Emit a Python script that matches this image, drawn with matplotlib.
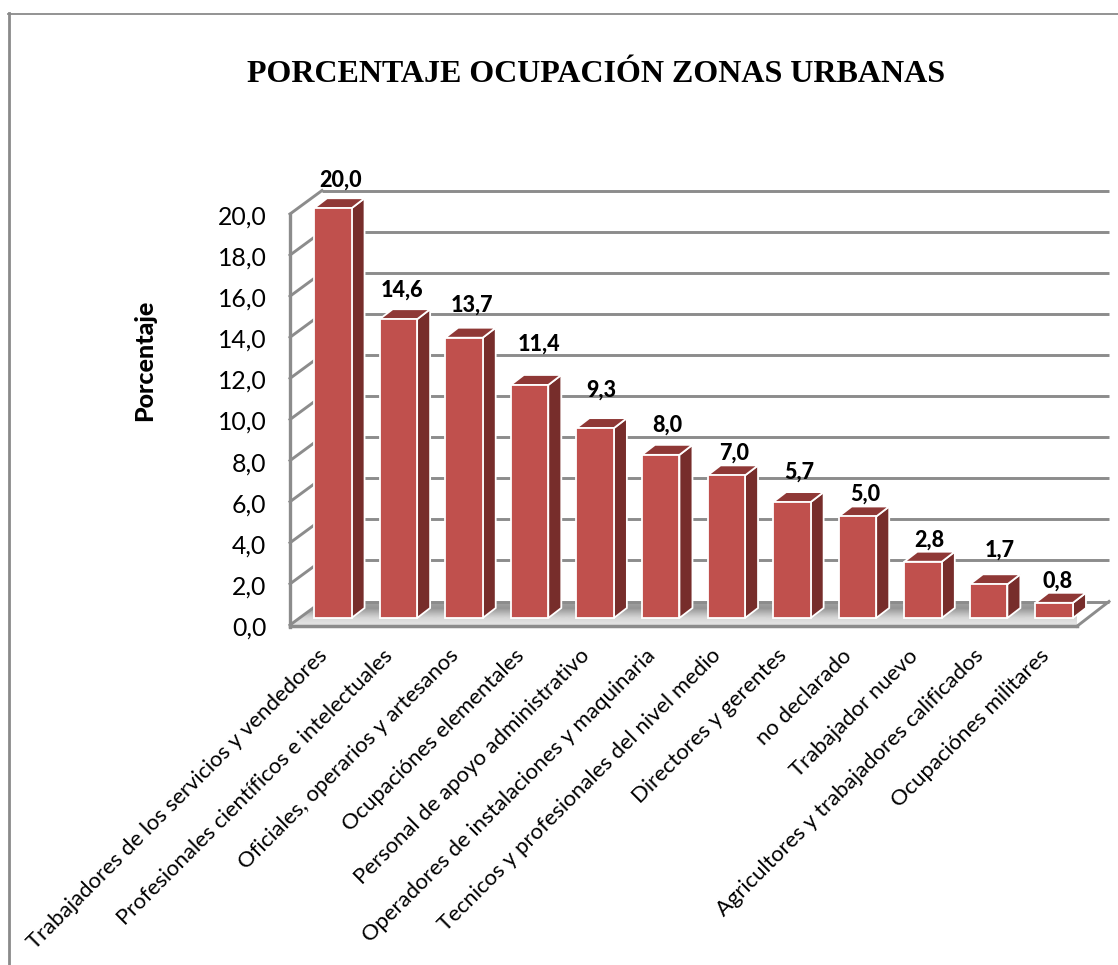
import numpy as np
import matplotlib
matplotlib.use("Agg")
import matplotlib.pyplot as plt
from matplotlib.patches import Polygon
from matplotlib.lines import Line2D
from matplotlib.transforms import ScaledTranslation

categories = ["Trabajadores de los servicios y vendedores",
              "Profesionales científicos e intelectuales",
              "Oficiales, operarios y artesanos",
              "Ocupaciónes elementales",
              "Personal de apoyo administrativo",
              "Operadores de instalaciones y maquinaria",
              "Tecnicos y profesionales del nivel medio",
              "Directores y gerentes",
              "no declarado",
              "Trabajador nuevo",
              "Agricultores y trabajadores calificados",
              "Ocupaciónes militares"]
values = [20.0, 14.6, 13.7, 11.4, 9.3, 8.0, 7.0, 5.7, 5.0, 2.8, 1.7, 0.8]
yticks = [0, 2, 4, 6, 8, 10, 12, 14, 16, 18, 20]
title = "PORCENTAJE OCUPACIÓN ZONAS URBANAS"
ylabel = "Porcentaje"

W, H = 1118, 965
fig = plt.figure(figsize=(W/100, H/100), dpi=100, facecolor="white")
L, R, B, T = 290, 1077, 625, 214
ax = fig.add_axes([L/W, 1-B/H, (R-L)/W, (B-T)/H])
ax.set_xlim(-0.5, 11.5)
ax.set_ylim(0, 20)
ax.patch.set_alpha(0)
for s in ax.spines.values():
    s.set_visible(False)

ux = 12/(R-L)
uy = 20/(B-T)

GRID = "#8C8C8C"
FRONT, TOP, SIDE = "#C0504D", "#8F3836", "#772D2B"
wall_dx, wall_dy = 32*ux, 23.5*uy
bar_dx, bar_dy = 10*ux, 7*uy
dep_dx, dep_dy = 13*ux, 10*uy
bw = 37.5*ux
top_off = 0.28

# floor with soft gradient
floor = Polygon([(-0.5, 0), (11.5, 0), (11.5+wall_dx, wall_dy), (-0.5+wall_dx, wall_dy)],
                closed=True, facecolor="#BDBDBD", edgecolor="none", zorder=1)
ax.add_patch(floor)
grad = np.array([[0.88], [0.84], [0.72], [0.58], [0.62]])
im = ax.imshow(grad, cmap="gray", vmin=0, vmax=1, origin="lower", aspect="auto",
               extent=(-0.5, 11.5+wall_dx, 0, wall_dy), zorder=1.1, interpolation="bilinear")
im.set_clip_path(floor)
ax.set_xlim(-0.5, 11.5)
ax.set_ylim(0, 20)

# walls: gridlines
lw = 2.1
for v in yticks:
    ax.add_line(Line2D([-0.5+wall_dx, 11.5+wall_dx], [v+wall_dy, v+wall_dy], color=GRID, lw=lw,
                       clip_on=False, zorder=1.5, solid_capstyle="butt"))
    ax.add_line(Line2D([-0.5, -0.5+wall_dx], [v, v+wall_dy], color=GRID, lw=lw,
                       clip_on=False, zorder=1.5))
# floor edges
ax.add_line(Line2D([-0.5, -0.5], [-0.1, 20], color=GRID, lw=lw+0.3, clip_on=False, zorder=2, solid_capstyle="projecting"))
ax.add_line(Line2D([-0.5, 11.5], [-0.06, -0.06], color=GRID, lw=lw+0.4, clip_on=False, zorder=2))
ax.add_line(Line2D([11.5, 11.5+wall_dx], [-0.06, wall_dy], color=GRID, lw=lw, clip_on=False, zorder=2))

# bars
x = np.arange(len(values))
for i, v in enumerate(values):
    x0 = x[i] + bar_dx - bw/2
    x1 = x0 + bw
    y0 = bar_dy
    y1 = v + top_off
    ax.add_patch(Polygon([(x1, y0), (x1+dep_dx, y0+dep_dy), (x1+dep_dx, y1+dep_dy), (x1, y1)],
                         facecolor=SIDE, edgecolor="white", lw=1.3, zorder=3, clip_on=False))
    ax.add_patch(Polygon([(x0, y1), (x1, y1), (x1+dep_dx, y1+dep_dy), (x0+dep_dx, y1+dep_dy)],
                         facecolor=TOP, edgecolor="white", lw=1.3, zorder=3, clip_on=False))
ax.bar(x + bar_dx, np.array(values) + top_off - bar_dy, width=bw, bottom=bar_dy, color=FRONT,
       edgecolor="white", linewidth=1.3, zorder=4, clip_on=False)

# data labels
lab_dx = [8, 4, 8, 9, 6, 7, 8, 7, 8, 6, 11, 3]
lab_dy = [28, 29, 33, 41, 38, 30, 22, 30, 22, 22, 34, 22]
for i, v in enumerate(values):
    ax.annotate(f"{v:.1f}".replace(".", ","), (x[i] + bar_dx, v + top_off),
                xytext=(lab_dx[i]*0.72, lab_dy[i]*0.72), textcoords="offset points",
                ha="center", va="center", fontsize=15.5, fontweight=900,
                family="Lato", color="black", zorder=6, annotation_clip=False)

# axes text
ax.set_yticks(yticks)
ax.set_yticklabels([f"{v:.1f}".replace(".", ",") for v in yticks], family="Lato", fontsize=17.8)
ax.tick_params(axis="y", length=0, pad=17)
ax.set_xticks(x)
ax.set_xticklabels(categories, rotation=45, ha="right", va="top", rotation_mode="anchor",
                   family="Lato", fontsize=15.9)
ax.tick_params(axis="x", length=0, pad=14)
shift_x = ScaledTranslation(-5.5/100, -1/100, fig.dpi_scale_trans)
for t in ax.get_xticklabels():
    t.set_transform(t.get_transform() + shift_x)
shift_y = ScaledTranslation(0, -1/100, fig.dpi_scale_trans)
for t in ax.get_yticklabels():
    t.set_transform(t.get_transform() + shift_y)

fig.text(596/W, 1-74/H, title, ha="center", va="center", family="Liberation Serif",
         fontweight="bold", fontsize=23)
fig.text(145/W, 1-360/H, ylabel, rotation=90, ha="center", va="center", family="Lato",
         fontweight=900, fontsize=18)

# chart frame
fig.add_artist(Line2D([8.5/W, 8.5/W], [0, 1-13/H], color="#8A8A8A", lw=2.0))
fig.add_artist(Line2D([7.5/W, 1], [1-13.5/H, 1-13.5/H], color="#8A8A8A", lw=1.3))

fig.savefig("out.png", dpi=100)
